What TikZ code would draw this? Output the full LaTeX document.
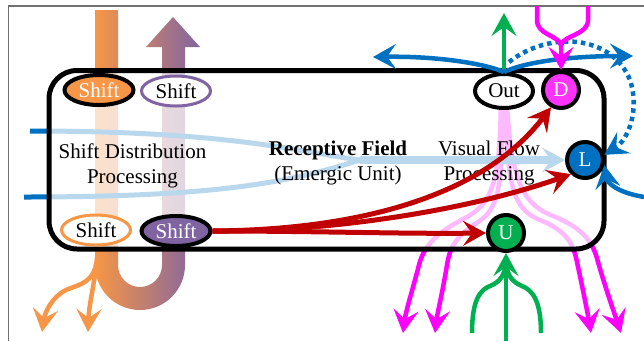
\documentclass[tikz,border=0pt]{standalone}
\usepackage{fontspec}
\setmainfont{Liberation Serif}
\usetikzlibrary{arrows.meta,shapes.geometric}
\definecolor{orangeC}{HTML}{F79646}
\definecolor{purpleC}{HTML}{8064A2}
\definecolor{magC}{HTML}{FF00FF}
\definecolor{dfill}{HTML}{FF33FF}
\definecolor{greenC}{HTML}{00B050}
\definecolor{blueC}{HTML}{0070C0}
\definecolor{redC}{HTML}{C00000}
\definecolor{frameC}{HTML}{707070}
\pgfdeclarelayer{under}
\pgfdeclarelayer{veil}
\pgfsetlayers{under,veil,main}
\begin{document}
\begin{tikzpicture}[x=1pt,y=-1pt,
  txt/.style={font=\fontsize{21}{25}\selectfont, inner sep=0pt, align=center},
  arr/.style={-{Stealth[length=23pt,width=25pt,inset=9pt]}},
  oval/.style={ellipse, inner sep=0pt, minimum width=69pt, minimum height=30pt, font=\fontsize{21}{25}\selectfont},
  disc/.style={circle, draw=black, line width=4pt, minimum size=36pt, inner sep=0pt, text=white, font=\fontsize{21}{25}\selectfont},
  flow/.style={line width=4.5pt},
]
\useasboundingbox (0,0) rectangle (644,341);
\draw[frameC, line width=1.3pt] (8.5,341) -- (8.5,6) -- (644,6);

% ---------- nodes ----------
\node[oval, draw=black, line width=4pt, fill=orangeC, text=white] (so) at (99,90) {Shift};
\node[oval, draw=purpleC, line width=3pt, fill=white] (sp) at (176,91) {Shift};
\node[oval, draw=orangeC, line width=3pt, fill=white] (sob) at (96,230) {Shift};
\node[oval, draw=black, line width=4pt, fill=purpleC, text=white] (spb) at (176,231) {Shift};
\node[ellipse, draw=black, line width=4pt, fill=white, minimum width=58pt, minimum height=34pt, inner sep=0pt, font=\fontsize{21}{25}\selectfont] (out) at (504,91) {Out};
\node[disc, fill=dfill] (D) at (561,90) {D};
\node[disc, fill=blueC] (L) at (585,160) {L};
\node[disc, fill=greenC] (U) at (506,233) {U};

\node[txt] (sdp) at (132.5,165.5) {Shift Distribution\\Processing};
\node[txt] (rf) at (338,162.5) {\textbf{Receptive Field}\\(Emergic Unit)};
\node[txt] (vfp) at (489,163) {Visual Flow\\Processing};

% ---------- coordinates ----------
\coordinate (os1) at (97,258);
\coordinate (os2) at (97,262);
\coordinate (oa1) at (42,332);
\coordinate (oa2) at (88,332);
\coordinate (pk1) at (403,333);
\coordinate (pk2) at (435,333);
\coordinate (pk3) at (591,333);
\coordinate (pk4) at (621,333);
\coordinate (bt) at (30,131);
\coordinate (bb) at (24,197);
\coordinate (bm) at (360,160);
\coordinate (gtop) at (504,13);
\coordinate (gb) at (506,341);
\coordinate (gl) at (472,333);
\coordinate (gr) at (541,333);
\coordinate (gj) at (506,262);
\coordinate (btl) at (373,57);
\coordinate (btr) at (633,56);
\coordinate (dst) at (509,62);
\coordinate (brs) at (644,197);
\coordinate (mt1) at (537,6);
\coordinate (mt2) at (588,6);
\coordinate (mj) at (561,45);

% ---------- under layer ----------
\begin{pgfonlayer}{under}
\shade[left color=orangeC, right color=purpleC]
  (95,10) -- (95,265) arc[start angle=180,end angle=0,radius=45] -- (185,47) -- (200,47)
  -- (173,17) -- (146,47) -- (162,47) -- (162,265) arc[start angle=0,end angle=180,radius=22]
  -- (118,10) -- cycle;
\draw[orangeC, flow, arr] (os1) .. controls (95,283) and (80,284) .. (66,290) .. controls (52,297) and (45,312) .. (oa1);
\draw[orangeC, flow, arr] (os2) .. controls (93,290) and (89,305) .. (oa2);

\draw[magC, flow, arr] (out.-100) .. controls (500,185) and (490,205) .. (465,218) .. controls (438,232) and (424,245) .. (419,265) .. controls (412,292) and (406,310) .. (pk1);
\draw[magC, flow, arr] (out.-95) .. controls (503,190) and (497,210) .. (478,222) .. controls (458,235) and (450,245) .. (447,265) .. controls (442,295) and (437,315) .. (pk2);
\draw[magC, flow, arr] (out.-85) .. controls (507,190) and (515,210) .. (540,220) .. controls (565,230) and (573,242) .. (577,262) .. controls (583,290) and (588,315) .. (pk3);
\draw[magC, flow, arr] (out.-80) .. controls (512,185) and (525,205) .. (553,216) .. controls (583,228) and (593,242) .. (598,262) .. controls (606,290) and (615,315) .. (pk4);

\draw[blueC, line width=5pt] (bt) .. controls (230,131) and (300,152) .. (bm);
\draw[blueC, line width=5pt] (bb) .. controls (220,197) and (290,182) .. (bm);
\draw[blueC, line width=8pt, arr] (bm) -- (L.180);
\end{pgfonlayer}

% ---------- veil layer ----------
\begin{pgfonlayer}{veil}
\fill[white, opacity=0.73, rounded corners=28pt] (49,70.5) rectangle (604,249);
\draw[black, line width=5pt, rounded corners=28pt] (49,70.5) rectangle (604,249);
\end{pgfonlayer}

% ---------- main connectors ----------
\draw[redC, line width=5pt, arr] (spb.east) .. controls (350,230) and (480,200) .. (D.240);
\draw[redC, line width=5pt, arr] (spb.east) .. controls (330,232) and (470,210) .. (L.225);
\draw[redC, line width=5pt, arr] (spb.east) .. controls (320,231) and (400,234) .. (U.west);

\draw[greenC, flow, arr] (out.north) -- (gtop);
\draw[greenC, flow] (gl) .. controls (472,300) and (480,290) .. (490,286) .. controls (500,282) and (505,275) .. (gj);
\draw[greenC, flow] (gr) .. controls (541,300) and (532,290) .. (522,286) .. controls (512,282) and (507,275) .. (gj);
\draw[greenC, flow, arr] (gb) -- (U.south);

\draw[blueC, flow, arr] (out.north) .. controls (480,62) and (430,56) .. (btl);
\draw[blueC, flow, arr] (out.north) .. controls (530,60) and (580,56) .. (btr);
\draw[blueC, line width=4.5pt, dash pattern=on 4.5pt off 4pt, arr] (dst) .. controls (550,30) and (612,35) .. (630,80) .. controls (640,110) and (628,140) .. (L.15);
\draw[blueC, flow, arr] (brs) .. controls (615,192) and (607,182) .. (L.-15);

\draw[magC, flow] (mt1) -- (537,20) .. controls (537,35) and (558,35) .. (mj);
\draw[magC, flow] (mt2) -- (588,20) .. controls (588,35) and (564,35) .. (mj);
\draw[magC, flow, arr] (mj) -- (D.north);
\end{tikzpicture}
\end{document}
